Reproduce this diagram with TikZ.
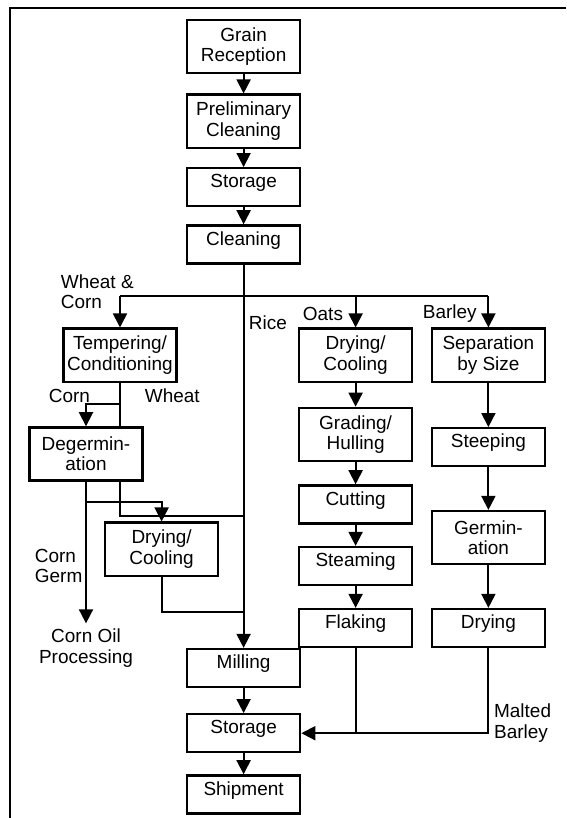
\documentclass[tikz,border=0pt]{standalone}
\usepackage{fontspec}
\setmainfont{Liberation Sans}
\usetikzlibrary{arrows.meta}

\begin{document}
\begin{tikzpicture}[>={Triangle[width=10pt,length=10pt]}, line width=1.3pt,
  box/.style={draw, line width=1.6pt, minimum width=2.83cm, minimum height=1.33cm,
              align=center, inner sep=1pt, font=\fontsize{13.5}{14.5}\selectfont},
  sbox/.style={box, minimum height=0.95cm, text height=9pt, text depth=8pt},
  lbl/.style={align=left, anchor=west, inner sep=0pt, font=\fontsize{13.5}{14.5}\selectfont}]

  \useasboundingbox (0,0) rectangle (14.15,-20.45);
  \draw[line width=2pt] (14.15,-0.2) -- (0.25,-0.2) -- (0.25,-20.45);

  \node[box]  (recv)  at (6.09,-1.16)  {Grain\\Reception};
  \node[box]  (prec)  at (6.09,-3.03)  {Preliminary\\Cleaning};
  \node[sbox] (stor)  at (6.09,-4.68)  {Storage};
  \node[sbox] (clean) at (6.09,-6.11)  {Cleaning};

  \node[box]  (temp)   at (3.0,-8.88)   {Tempering/\\Conditioning};
  \node[box]  (degerm) at (2.15,-11.35) {Degermin-\\ation};
  \node[box]  (dryw)   at (4.04,-13.73) {Drying/\\Cooling};

  \node[box]  (dryo)  at (8.89,-8.88)  {Drying/\\Cooling};
  \node[box]  (grade) at (8.89,-10.86) {Grading/\\Hulling};
  \node[sbox] (cut)   at (8.89,-12.61) {Cutting};
  \node[sbox] (steam) at (8.89,-14.15) {Steaming};
  \node[sbox] (flake) at (8.89,-15.7)  {Flaking};

  \node[box]  (sep)   at (12.21,-8.88)  {Separation\\by Size};
  \node[sbox] (steep) at (12.21,-11.18) {Steeping};
  \node[box]  (germ)  at (12.21,-13.44) {Germin-\\ation};
  \node[sbox] (dryb)  at (12.21,-15.7)  {Drying};

  \node[sbox] (mill)  at (6.09,-16.7)  {Milling};
  \node[sbox] (stor2) at (6.09,-18.33) {Storage};
  \node[sbox] (ship)  at (6.09,-19.86) {Shipment};

  \node[lbl] (lwc)     at (1.5,-7.3)    {Wheat \&\\Corn};
  \node[lbl] (lrice)   at (6.2,-8.08)   {Rice};
  \node[lbl] (loats)   at (7.55,-7.85)  {Oats};
  \node[lbl] (lbarley) at (10.55,-7.85) {Barley};
  \node[lbl] (lcorn)   at (1.2,-9.9)    {Corn};
  \node[lbl] (lwheat)  at (3.6,-9.9)    {Wheat};
  \node[lbl] (lgerm)   at (0.85,-14.15) {Corn\\Germ};
  \node[lbl] (lmalt)   at (12.33,-18.08) {Malted\\Barley};
  \node[align=center, font=\fontsize{13.5}{14.5}\selectfont] (oil) at (2.15,-16.2) {Corn Oil\\Processing};

  \coordinate (split) at (6.09,-7.4);
  \coordinate (cw)    at (3.0,-10.1);
  \coordinate (dg)    at (2.15,-12.55);
  \coordinate (wt)    at (3.0,-12.9);
  \coordinate (dj)    at (6.09,-15.3);

  \draw[->] (recv) -- (prec);
  \draw[->] (prec) -- (stor);
  \draw[->] (stor) -- (clean);
  \draw (clean) -- (split);
  \draw (temp |- split) -- (sep |- split);
  \draw[->] (temp |- split) -- (temp);
  \draw[->] (dryo |- split) -- (dryo);
  \draw[->] (sep |- split) -- (sep);
  \draw[->] (split) -- (mill);

  \draw (temp) -- (temp |- degerm.north);
  \draw[->] (cw) -| (degerm);
  \draw[->] (degerm) -- (oil);
  \draw[->] (dg) -| (dryw);
  \draw (degerm.south -| temp) -- (wt) -- (wt -| split);
  \draw (dryw) |- (dj);

  \draw[->] (dryo) -- (grade);
  \draw[->] (grade) -- (cut);
  \draw[->] (cut) -- (steam);
  \draw[->] (steam) -- (flake);
  \draw[->] (sep) -- (steep);
  \draw[->] (steep) -- (germ);
  \draw[->] (germ) -- (dryb);

  \draw (flake) -- (flake |- stor2);
  \draw[->] (dryb) |- (stor2);
  \draw[->] (mill) -- (stor2);
  \draw[->] (stor2) -- (ship);

\end{tikzpicture}
\end{document}
